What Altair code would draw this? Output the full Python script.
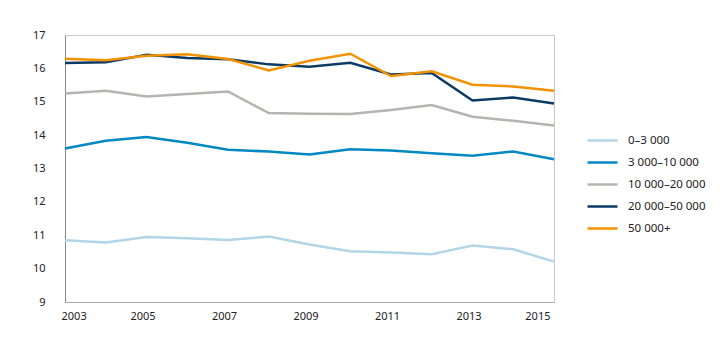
import altair as alt
import pandas as pd

years = list(range(2003, 2016))
series_names = ["0–3 000", "3 000–10 000", "10 000–20 000", "20 000–50 000", "50 000+"]
s0_3 = [10.85, 10.78, 10.95, 10.91, 10.86, 10.96, 10.72, 10.52, 10.48, 10.43, 10.69, 10.58, 10.21]
s3_10 = [13.60, 13.83, 13.94, 13.77, 13.56, 13.51, 13.42, 13.58, 13.54, 13.46, 13.38, 13.51, 13.28]
s10_20 = [15.25, 15.33, 15.16, 15.23, 15.31, 14.66, 14.64, 14.63, 14.75, 14.90, 14.55, 14.43, 14.29]
s20_50 = [16.16, 16.18, 16.41, 16.31, 16.27, 16.12, 16.05, 16.17, 15.82, 15.86, 15.04, 15.13, 14.95]
s50p = [16.29, 16.24, 16.38, 16.42, 16.28, 15.94, 16.23, 16.44, 15.77, 15.91, 15.51, 15.46, 15.33]
colors = ["#b3d5e8", "#0088c2", "#b7b4b0", "#0b3a64", "#f39200"]

rows = []
for name, vals in zip(series_names, [s0_3, s3_10, s10_20, s20_50, s50p]):
    for y, v in zip(years, vals):
        rows.append({"year": y, "value": v, "series": name})
df = pd.DataFrame(rows)

FONT = "Noto Sans"

chart = alt.Chart(df).mark_line(strokeWidth=2.5).encode(
    x=alt.X("year:Q", scale=alt.Scale(domain=[2003, 2015], nice=False),
            axis=alt.Axis(values=[2003, 2005, 2007, 2009, 2011, 2013, 2015], format="d",
                          title=None, grid=False, ticks=False, domainColor="#aaaaaa",
                          labelPadding=8, labelOffset=-4, labelFontSize=11, labelColor="#222222",
                          labelFont=FONT)),
    y=alt.Y("value:Q", scale=alt.Scale(domain=[9, 17], nice=False, zero=False),
            axis=alt.Axis(values=list(range(9, 18)), title=None, grid=False, ticks=False,
                          domainColor="#888888", labelPadding=20, labelFontSize=11,
                          labelColor="#222222", labelFont=FONT)),
    color=alt.Color("series:N", sort=series_names,
                    scale=alt.Scale(domain=series_names, range=colors),
                    legend=alt.Legend(title=None, orient="none", legendX=521, legendY=89,
                                      symbolType="stroke", symbolSize=900, symbolStrokeWidth=2.5,
                                      labelFontSize=11.5, labelFont=FONT, labelColor="#222222",
                                      rowPadding=-11, labelOffset=9)),
).properties(
    width=489, height=267,
    autosize=alt.AutoSizeParams(type="none"),
    padding={"left": 65, "top": 35, "right": 166, "bottom": 39},
).configure_view(stroke="#c8c8c8", strokeWidth=1)

chart.save("out.html", embed_options={"renderer": "svg", "actions": False})
